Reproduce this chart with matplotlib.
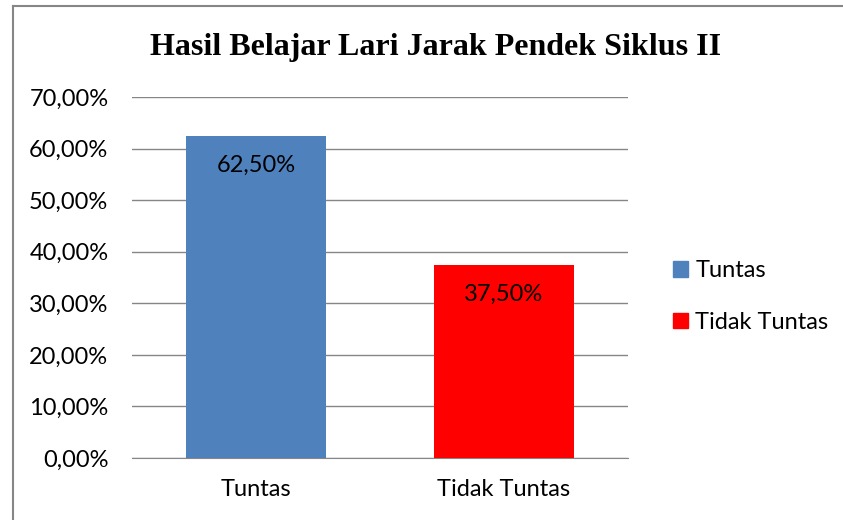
import matplotlib
matplotlib.use('Agg')
import matplotlib.pyplot as plt
from matplotlib.patches import Rectangle
from matplotlib.lines import Line2D

# data
categories = ['Tuntas', 'Tidak Tuntas']
values = [62.5, 37.5]
labels = ['62,50%', '37,50%']
colors = ['#4F81BD', '#FF0000']
yticks = [0, 10, 20, 30, 40, 50, 60, 70]

plt.rcParams['font.family'] = ['Lato', 'DejaVu Sans']

fig = plt.figure(figsize=(8.43, 5.2), dpi=100)
ax = fig.add_axes([0.1566, 0.1192, 0.5884, 0.6942])

x = range(len(categories))
bars = ax.bar(x, values, width=0.565, color=colors, zorder=3)

for b, lab in zip(bars, labels):
    ax.text(b.get_x() + b.get_width() / 2, b.get_height() - 5.8, lab,
            ha='center', va='center', fontsize=17, color='black', zorder=4)

ax.set_xlim(-0.5, 1.5)
ax.set_ylim(0, 70)
ax.set_yticks(yticks)
ax.set_yticklabels(['%d,00%%' % v for v in yticks], fontsize=17)
ax.set_xticks(list(x))
ax.set_xticklabels(categories, fontsize=17)
ax.tick_params(axis='x', length=0, pad=15)
ax.tick_params(axis='y', length=0, pad=17)
ax.grid(axis='y', color='#868686', linewidth=1, zorder=0)
for s in ['top', 'right', 'left']:
    ax.spines[s].set_visible(False)
ax.spines['bottom'].set_color('#868686')

# legend
handles = [Rectangle((0, 0), 1, 1, color=c) for c in colors]
fig.legend(handles, categories, loc='center left', bbox_to_anchor=(0.773, 0.43),
           frameon=False, fontsize=17, handlelength=0.65, handleheight=0.65,
           handletextpad=0.3, labelspacing=1.3)

fig.text(0.517, 0.909, 'Hasil Belajar Lari Jarak Pendek Siklus II',
         ha='center', va='center', fontsize=23, fontweight='bold',
         family='Liberation Serif')

# chart border (only top and left visible in the crop)
bx, by = 12.5 / 843, 1 - 5.5 / 520
fig.lines.append(Line2D([bx, 1.0], [by, by], transform=fig.transFigure,
                        color='#868686', linewidth=1.5))
fig.lines.append(Line2D([bx, bx], [0, by], transform=fig.transFigure,
                        color='#868686', linewidth=1.5))

fig.savefig('out.png', dpi=100)
